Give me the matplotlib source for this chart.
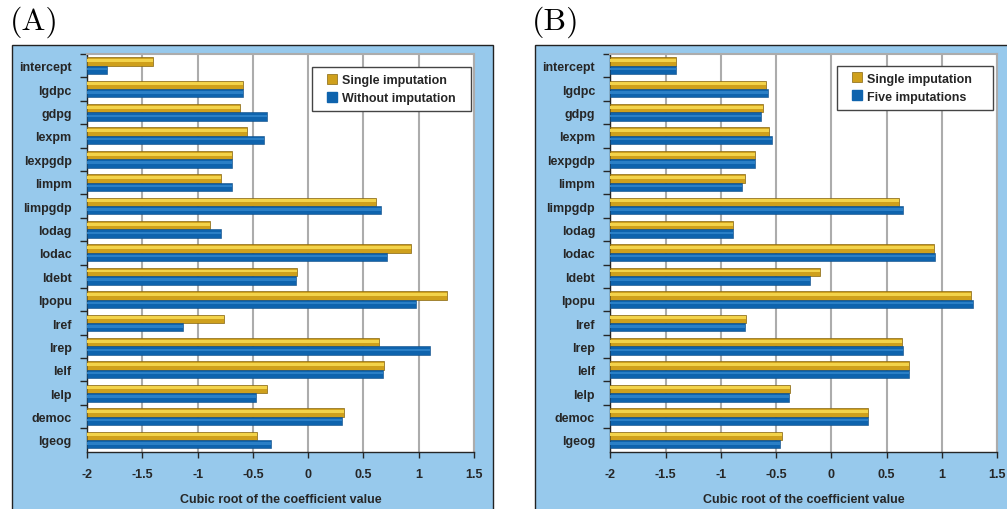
import matplotlib.pyplot as plt
from matplotlib.patches import Rectangle
from matplotlib.lines import Line2D

plt.rcParams['font.family'] = ['Liberation Sans', 'DejaVu Sans']
plt.rcParams['font.weight'] = 'bold'
plt.rcParams['axes.unicode_minus'] = False

# data
variables = ["intercept", "lgdpc", "gdpg", "lexpm", "lexpgdp", "limpm", "limpgdp",
             "lodag", "lodac", "ldebt", "lpopu", "lref", "lrep", "lelf", "lelp",
             "democ", "lgeog"]

single_a = [-1.40, -0.59, -0.62, -0.55, -0.69, -0.79, 0.61, -0.89, 0.93, -0.10,
            1.26, -0.76, 0.64, 0.69, -0.37, 0.32, -0.46]
without_a = [-1.82, -0.59, -0.37, -0.40, -0.69, -0.69, 0.66, -0.79, 0.71, -0.11,
             0.98, -1.13, 1.10, 0.68, -0.47, 0.31, -0.34]

single_b = [-1.41, -0.59, -0.62, -0.56, -0.69, -0.78, 0.61, -0.89, 0.93, -0.10,
            1.26, -0.77, 0.64, 0.70, -0.37, 0.33, -0.45]
five_b = [-1.41, -0.57, -0.64, -0.54, -0.69, -0.81, 0.65, -0.89, 0.94, -0.19,
          1.28, -0.78, 0.65, 0.70, -0.38, 0.33, -0.46]

xticks = [-2, -1.5, -1, -0.5, 0, 0.5, 1, 1.5]
xtick_labels = ["-2", "-1.5", "-1", "-0.5", "0", "0.5", "1", "1.5"]

panel_bg = "#97c9ec"
gold = "#cfa01c"
gold_hi = "#f3d34a"
blue = "#0e63ad"
blue_hi = "#2a7fc6"
text_col = "#262626"


def draw_panel(ax, yellow_vals, blue_vals, blue_name):
    xmin, xmax = xticks[0], xticks[-1]
    h = 0.36
    pos = list(range(len(variables)))
    y_top = [p - h / 2 for p in pos]
    y_bot = [p + h / 2 for p in pos]
    wy = [v - xmin for v in yellow_vals]
    wb = [v - xmin for v in blue_vals]
    ax.barh(y_top, wy, height=h, left=xmin, color=gold, edgecolor="#86660f",
            linewidth=0.5, zorder=3)
    ax.barh([y - h * 0.12 for y in y_top], wy, height=h * 0.35, left=xmin,
            color=gold_hi, linewidth=0, zorder=3)
    ax.barh(y_bot, wb, height=h, left=xmin, color=blue, edgecolor="#0b4a85",
            linewidth=0.4, zorder=3)
    ax.barh([y - h * 0.1 for y in y_bot], wb, height=h * 0.3, left=xmin,
            color=blue_hi, linewidth=0, zorder=3)

    ax.set_xlim(xmin, xmax)
    ax.set_ylim(len(variables) - 0.5, -0.5)
    ax.set_xticks(xticks)
    ax.set_xticklabels(xtick_labels, fontsize=9, fontweight='bold', color=text_col)
    ax.set_yticks(pos)
    ax.set_yticklabels(variables, fontsize=9, fontweight='bold', color=text_col)
    ax.tick_params(axis='y', which='major', length=0, pad=11)
    ax.set_yticks([p + 0.5 for p in pos[:-1]] + [-0.5], minor=True)
    ax.tick_params(axis='y', which='minor', length=5, width=1, color=text_col)
    ax.tick_params(axis='x', length=4, width=1, color=text_col, pad=8)

    ax.grid(axis='x', color="#acacac", linewidth=1.5, zorder=0)
    ax.set_axisbelow(True)
    ax.set_facecolor("white")
    for s in ["top", "right"]:
        ax.spines[s].set_color("#acacac")
        ax.spines[s].set_linewidth(1.5)
    for s in ["left", "bottom"]:
        ax.spines[s].set_color(text_col)
        ax.spines[s].set_linewidth(1.0)

    ax.set_xlabel("Cubic root of the coefficient value", fontsize=9,
                  fontweight='bold', color=text_col, labelpad=9)

    handles = [
        Line2D([], [], marker='s', linestyle='none', markersize=7,
               markerfacecolor=gold, markeredgecolor="#86660f", markeredgewidth=0.5),
        Line2D([], [], marker='s', linestyle='none', markersize=7,
               markerfacecolor=blue, markeredgecolor=blue),
    ]
    return handles, ["Single imputation", blue_name]


fig = plt.figure(figsize=(10.07, 5.10), dpi=100)

# light blue chart frames
fig.patches.append(Rectangle((12 / 1007, -0.02), 481 / 1007, 0.93,
                             transform=fig.transFigure, facecolor=panel_bg,
                             edgecolor="#222222", linewidth=1.0, zorder=-5))
fig.patches.append(Rectangle((535 / 1007, -0.02), 480 / 1007, 0.93,
                             transform=fig.transFigure, facecolor=panel_bg,
                             edgecolor="#222222", linewidth=1.0, zorder=-5))

ax1 = fig.add_axes([0.0864, 0.1124, 0.3843, 0.7798])
ax2 = fig.add_axes([0.6061, 0.1124, 0.3840, 0.7798])

h1, l1 = draw_panel(ax1, single_a, without_a, "Without imputation")
h2, l2 = draw_panel(ax2, single_b, five_b, "Five imputations")

legend_boxes = [(ax1, h1, l1, (0.581, 0.862, 0.411, 0.1046)),
                (ax2, h2, l2, (0.5855, 0.8675, 0.404, 0.1031))]
for ax, hh, ll, box in legend_boxes:
    leg = ax.legend(hh, ll, loc='upper left', bbox_to_anchor=box, mode='expand',
                    borderaxespad=0, fancybox=False, framealpha=1,
                    prop={'size': 9, 'weight': 'bold'}, handlelength=2.2,
                    handletextpad=-0.35, labelspacing=0.5, borderpad=0.55)
    leg.get_frame().set_edgecolor("#444444")
    leg.get_frame().set_linewidth(1.0)
    for t in leg.get_texts():
        t.set_color(text_col)

fig.text(10 / 1007, 1 - 22 / 510, "(A)", fontsize=23, family='cmr10',
         fontweight='normal', va='center', ha='left')
fig.text(532 / 1007, 1 - 22 / 510, "(B)", fontsize=23, family='cmr10',
         fontweight='normal', va='center', ha='left')

fig.savefig("out.png", dpi=100)
